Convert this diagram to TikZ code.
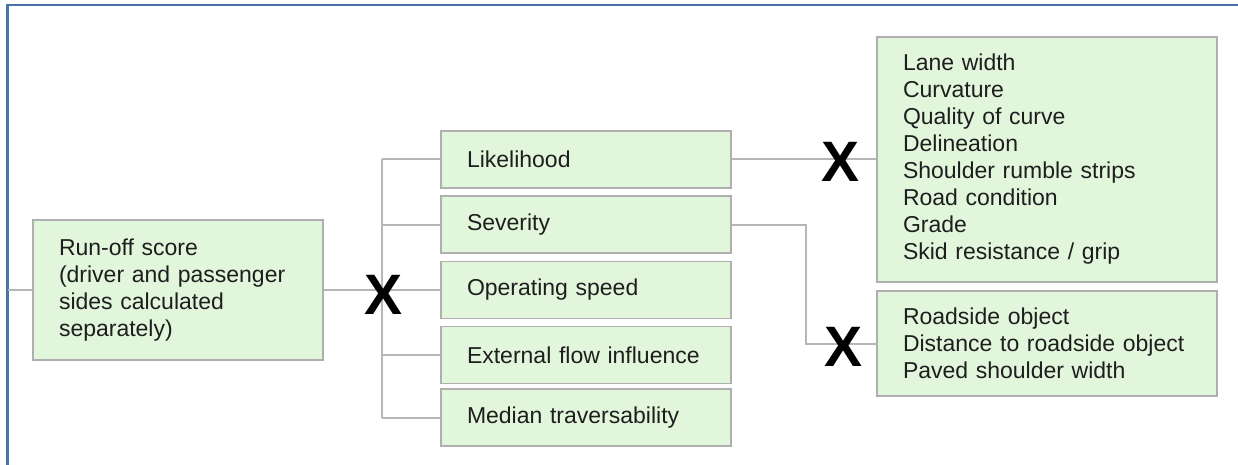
\documentclass[tikz,border=0pt]{standalone}
\usepackage{fontspec}
\setmainfont{Liberation Sans}
\definecolor{boxfill}{RGB}{226,246,220}
\definecolor{boxline}{RGB}{175,175,175}
\definecolor{wire}{RGB}{182,182,182}
\definecolor{framecol}{RGB}{72,115,168}
\definecolor{txt}{RGB}{30,30,30}
\begin{document}
\begin{tikzpicture}[x=1pt, y=-1pt,
    box/.style={draw=boxline, line width=1.8pt, fill=boxfill, text=txt, align=left,
        inner xsep=26pt, inner ysep=0pt, font=\fontsize{23}{27}\selectfont},
    midbox/.style={box, text width=238pt, minimum height=57pt},
    conn/.style={draw=wire, line width=2pt},
    times/.style={font=\fontsize{57}{57}\selectfont\bfseries, inner sep=0pt}]
        \useasboundingbox (0,0) rectangle (1238,465);
        \draw[framecol, line width=2.4pt] (7.5,470) -- (7.5,5) -- (1245,5);

        \node[box, text width=238pt, minimum height=140pt] (runoff) at (178,290)
            {Run-off score\\(driver and passenger\\sides calculated\\separately)};

        \node[midbox] (like) at (586,159.5) {Likelihood};
        \node[midbox] (sev)  at (586,224.5) {Severity};
        \node[midbox] (opsp) at (586,290)   {Operating speed};
        \node[midbox] (ext)  at (586,355)   {External flow influence};
        \node[midbox] (medn) at (586,417.5) {Median traversability};

        \node[box, text width=288pt, minimum height=245pt] (road) at (1047,159.5)
            {Lane width\\Curvature\\Quality of curve\\Delineation\\Shoulder rumble strips\\Road condition\\Grade\\Skid resistance / grip};
        \node[box, text width=288pt, minimum height=105pt] (side) at (1047,343.5)
            {Roadside object\\Distance to roadside object\\Paved shoulder width};

        \coordinate (lin) at (8,290);
        \coordinate (j1) at (382,290);

        \draw[conn] (lin) -- (runoff.west);
        \draw[conn] (runoff.east) -- (j1);
        \draw[conn] (j1 |- like.west) -- (j1 |- medn.west);
        \draw[conn] (j1 |- like.west) -- (like.west);
        \draw[conn] (j1 |- sev.west)  -- (sev.west);
        \draw[conn] (j1) -- (opsp.west);
        \draw[conn] (j1 |- ext.west)  -- (ext.west);
        \draw[conn] (j1 |- medn.west) -- (medn.west);

        \draw[conn] (like.east) -- (road.west);
        \draw[conn] (sev.east) -- ++(74,0) |- (side.west);

        \node[times] (x1) at (384,295) {X};
        \node[times] (x2) at (840,162) {X};
        \node[times] (x3) at (843,347) {X};
\end{tikzpicture}
\end{document}
